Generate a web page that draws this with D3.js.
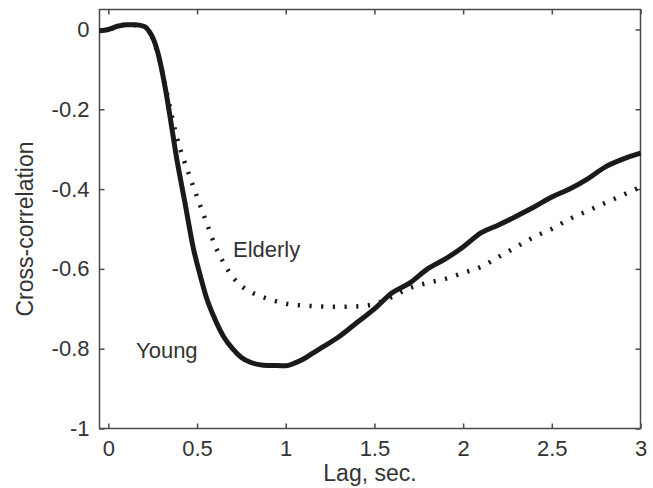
<!DOCTYPE html>
<html>
<head>
<meta charset="utf-8">
<script src="https://cdn.jsdelivr.net/npm/d3@7"></script>
<style>
  body { margin: 0; background: #fff; }
  svg { display: block; font-family: "Liberation Sans", Arial, sans-serif; }
</style>
</head>
<body>
<script>
document.addEventListener("DOMContentLoaded", function() {
    // lag in seconds, x values are per series
    var youngLag = [-0.05, 0, 0.05, 0.1, 0.15, 0.2, 0.23, 0.25, 0.28, 0.32, 0.35, 0.38, 0.43, 0.48, 0.52, 0.555,
                    0.59, 0.65, 0.7, 0.75, 0.8, 0.85, 0.9, 0.95, 1.0, 1.05, 1.1, 1.15, 1.2, 1.3, 1.4, 1.5,
                    1.6, 1.7, 1.8, 1.9, 2.0, 2.1, 2.2, 2.3, 2.4, 2.5, 2.6, 2.7, 2.8, 2.9, 3.0];
    var youngVal = [-0.003, 0, 0.008, 0.012, 0.012, 0.008, -0.005, -0.02, -0.06, -0.145, -0.225, -0.31, -0.43, -0.55, -0.62, -0.675,
                    -0.715, -0.77, -0.80, -0.822, -0.834, -0.84, -0.842, -0.842, -0.843, -0.836, -0.826, -0.812, -0.798, -0.77, -0.735, -0.70,
                    -0.66, -0.635, -0.60, -0.575, -0.545, -0.51, -0.49, -0.468, -0.445, -0.42, -0.40, -0.375, -0.345, -0.325, -0.31];

    var elderlyLag = [-0.05, 0, 0.1, 0.2, 0.23, 0.26, 0.29, 0.32, 0.35, 0.38, 0.42, 0.46, 0.5, 0.55, 0.6, 0.65,
                      0.7, 0.75, 0.8, 0.9, 1.0, 1.1, 1.2, 1.3, 1.4, 1.5, 1.6, 1.7, 1.8, 1.9, 2.0,
                      2.1, 2.2, 2.3, 2.4, 2.5, 2.6, 2.7, 2.8, 2.9, 3.0];
    var elderlyVal = [-0.003, 0, 0.012, 0.008, -0.005, -0.035, -0.08, -0.14, -0.2, -0.26, -0.32, -0.37, -0.42, -0.48, -0.54, -0.585,
                      -0.62, -0.643, -0.657, -0.675, -0.687, -0.692, -0.694, -0.695, -0.694, -0.688, -0.67, -0.648, -0.635, -0.625, -0.61,
                      -0.595, -0.57, -0.545, -0.52, -0.50, -0.475, -0.455, -0.435, -0.415, -0.395];

    var xTicks = [0, 0.5, 1, 1.5, 2, 2.5, 3],
        xTickLabels = ["0", "0.5", "1", "1.5", "2", "2.5", "3"],
        yTicks = [-1, -0.8, -0.6, -0.4, -0.2, 0],
        yTickLabels = ["-1", "-0.8", "-0.6", "-0.4", "-0.2", "0"];

    var W = 653, H = 488,
        left = 99.5, right = 640.5, top = 9.5, bottom = 428.5,
        axisColor = "#4a4a4a", textColor = "#333";

    var svg = d3.select("body").append("svg").attr("width", W).attr("height", H);

    var x = d3.scaleLinear().domain([-0.05, 3]).range([left, right]),
        y = d3.scaleLinear().domain([-1, 0.05]).range([bottom, top]);

    function styleAxis(g, showText) {
        g.select(".domain").remove();
        g.selectAll(".tick line").attr("stroke", axisColor).attr("stroke-width", 1.5);
        g.selectAll("text").attr("fill", textColor).style("font-size", "22px");
        if (!showText) g.selectAll("text").remove();
    }

    svg.append("g").attr("transform", "translate(0," + bottom + ")")
        .call(d3.axisBottom(x).tickValues(xTicks).tickSize(-5).tickPadding(12)
            .tickFormat(function(d, i) { return xTickLabels[i]; }))
        .call(styleAxis, true);
    svg.append("g").attr("transform", "translate(0," + top + ")")
        .call(d3.axisTop(x).tickValues(xTicks).tickSize(-5))
        .call(styleAxis, false);
    svg.append("g").attr("transform", "translate(" + left + ",0)")
        .call(d3.axisLeft(y).tickValues(yTicks).tickSize(-5).tickPadding(10)
            .tickFormat(function(d, i) { return yTickLabels[i]; }))
        .call(styleAxis, true);
    svg.append("g").attr("transform", "translate(" + right + ",0)")
        .call(d3.axisRight(y).tickValues(yTicks).tickSize(-5))
        .call(styleAxis, false);

    svg.append("rect")
        .attr("x", left).attr("y", top)
        .attr("width", right - left).attr("height", bottom - top)
        .attr("fill", "none").attr("stroke", axisColor).attr("stroke-width", 1.5);

    var line = d3.line()
        .x(function(d) { return x(d[0]); })
        .y(function(d) { return y(d[1]); })
        .curve(d3.curveMonotoneX);

    svg.append("path")
        .datum(d3.zip(elderlyLag, elderlyVal))
        .attr("d", line)
        .attr("fill", "none")
        .attr("stroke", "#1a1a1a")
        .attr("stroke-width", 4.5)
        .attr("stroke-dasharray", "2.2,9.5");

    svg.append("path")
        .datum(d3.zip(youngLag, youngVal))
        .attr("d", line)
        .attr("fill", "none")
        .attr("stroke", "#1a1a1a")
        .attr("stroke-width", 5)
        .attr("stroke-linejoin", "round");

    svg.append("text").attr("x", 233).attr("y", 257).text("Elderly")
        .attr("fill", textColor).style("font-size", "22px");
    svg.append("text").attr("x", 136).attr("y", 358).text("Young")
        .attr("fill", textColor).style("font-size", "22px");

    svg.append("text")
        .attr("x", (left + right) / 2).attr("y", 481)
        .attr("text-anchor", "middle")
        .attr("fill", textColor).style("font-size", "23px")
        .text("Lag, sec.");

    svg.append("text")
        .attr("transform", "translate(33,229) rotate(-90)")
        .attr("text-anchor", "middle")
        .attr("fill", textColor).style("font-size", "23px")
        .text("Cross-correlation");
});
</script>
</body>
</html>
